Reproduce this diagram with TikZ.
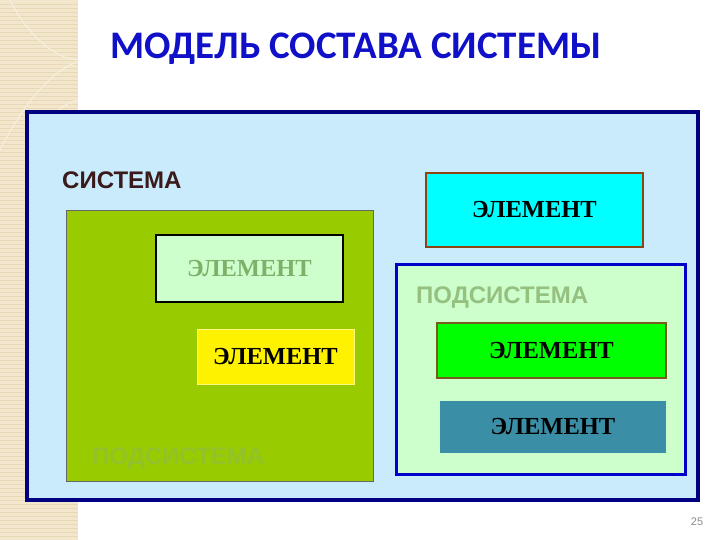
\documentclass[tikz,border=0pt]{standalone}
\usepackage{fontspec}
\setmainfont{Liberation Serif}
\setsansfont{Liberation Sans}
\newfontfamily\titlefont{Carlito}
\usepackage{xcolor}
\definecolor{strip}{HTML}{F2E6CC}
\definecolor{stripln}{HTML}{E8D8B6}
\definecolor{navy}{HTML}{000080}
\definecolor{sky}{HTML}{CAEBFB}
\definecolor{olive}{HTML}{99CC00}
\definecolor{pale}{HTML}{CCFFCC}
\definecolor{ttl}{HTML}{1010C8}
\definecolor{sysblue}{HTML}{0000CC}
\definecolor{brownb}{HTML}{8B4513}
\definecolor{aqua}{HTML}{00FFFF}
\definecolor{lime}{HTML}{00FF00}
\definecolor{limeb}{HTML}{7A5A1A}
\definecolor{teal}{HTML}{3A8FA6}
\definecolor{fadeA}{HTML}{7FB069}
\definecolor{fadeB}{HTML}{96C080}
\definecolor{fadeC}{HTML}{92C229}
\definecolor{darklab}{HTML}{3A1A1A}
\usetikzlibrary{positioning}
\tikzset{
  frame/.style={rectangle,inner sep=0pt,outer sep=0pt},
  elem/.style={frame,font=\fontsize{24.5}{27}\selectfont\bfseries},
  lab/.style={font=\sffamily\bfseries\fontsize{24}{27}\selectfont,inner sep=0pt,anchor=base west},
}
\begin{document}
\begin{tikzpicture}[x=1pt,y=-1pt]
\useasboundingbox (0,0) rectangle (720,540);
% left strip
\fill[white] (0,0) rectangle (720,540);
\fill[strip] (0,0) rectangle (78,540);
\foreach \yy in {4,8,...,536} \draw[stripln,line width=0.4pt] (0,\yy) -- (78,\yy);
\draw[white!40!strip,line width=1pt] (0,150) .. controls (20,110) and (50,70) .. (78,62);
\draw[white!40!strip,line width=1pt] (10,0) .. controls (30,40) and (60,60) .. (78,60);
\draw[white!40!strip,line width=1pt] (40,220) .. controls (20,160) and (40,110) .. (78,100);
% title
\node[font=\titlefont\bfseries\fontsize{39}{41}\selectfont,text=ttl,inner sep=0pt,anchor=base west] (title) at (110,59) {МОДЕЛЬ СОСТАВА СИСТЕМЫ};
% outer system
\node[frame,draw=navy,line width=4pt,fill=sky,minimum width=671pt,minimum height=388pt] (sys) at (362.5,306) {};
\node[lab,text=darklab] (syslab) at (62,189) {СИСТЕМА};
% left subsystem
\node[frame,draw=black!60,line width=0.8pt,fill=olive,minimum width=307pt,minimum height=271pt] (subL) at (219.5,345.5) {};
\node[elem,draw=black,line width=2pt,fill=pale,text=fadeA,minimum width=187pt,minimum height=67pt] (elA) at (249.5,268.5) {ЭЛЕМЕНТ};
\node[elem,draw=yellow!50!white,line width=1pt,fill=yellow,minimum width=157pt,minimum height=55pt] (elB) at (275.5,356.5) {ЭЛЕМЕНТ};
\node[lab,text=fadeC] (subLlab) at (92,464) {ПОДСИСТЕМА};
% free element
\node[elem,draw=brownb,line width=2pt,fill=aqua,minimum width=217pt,minimum height=74pt] (elC) at (534.5,210) {ЭЛЕМЕНТ};
% right subsystem
\node[frame,draw=sysblue,line width=3pt,fill=pale,minimum width=289pt,minimum height=210pt] (subR) at (540.5,369) {};
\node[lab,text=fadeB] (subRlab) at (416,303) {ПОДСИСТЕМА};
\node[elem,draw=limeb,line width=1.5pt,fill=lime,minimum width=229pt,minimum height=55pt] (elD) at (551.5,350.5) {ЭЛЕМЕНТ};
\node[elem,fill=teal,minimum width=226pt,minimum height=52pt] (elE) at (553,427) {ЭЛЕМЕНТ};
% page number
\node[font=\sffamily\fontsize{11}{12}\selectfont,text=black!45,inner sep=0pt] (pg) at (697,522) {25};
\end{tikzpicture}
\end{document}
